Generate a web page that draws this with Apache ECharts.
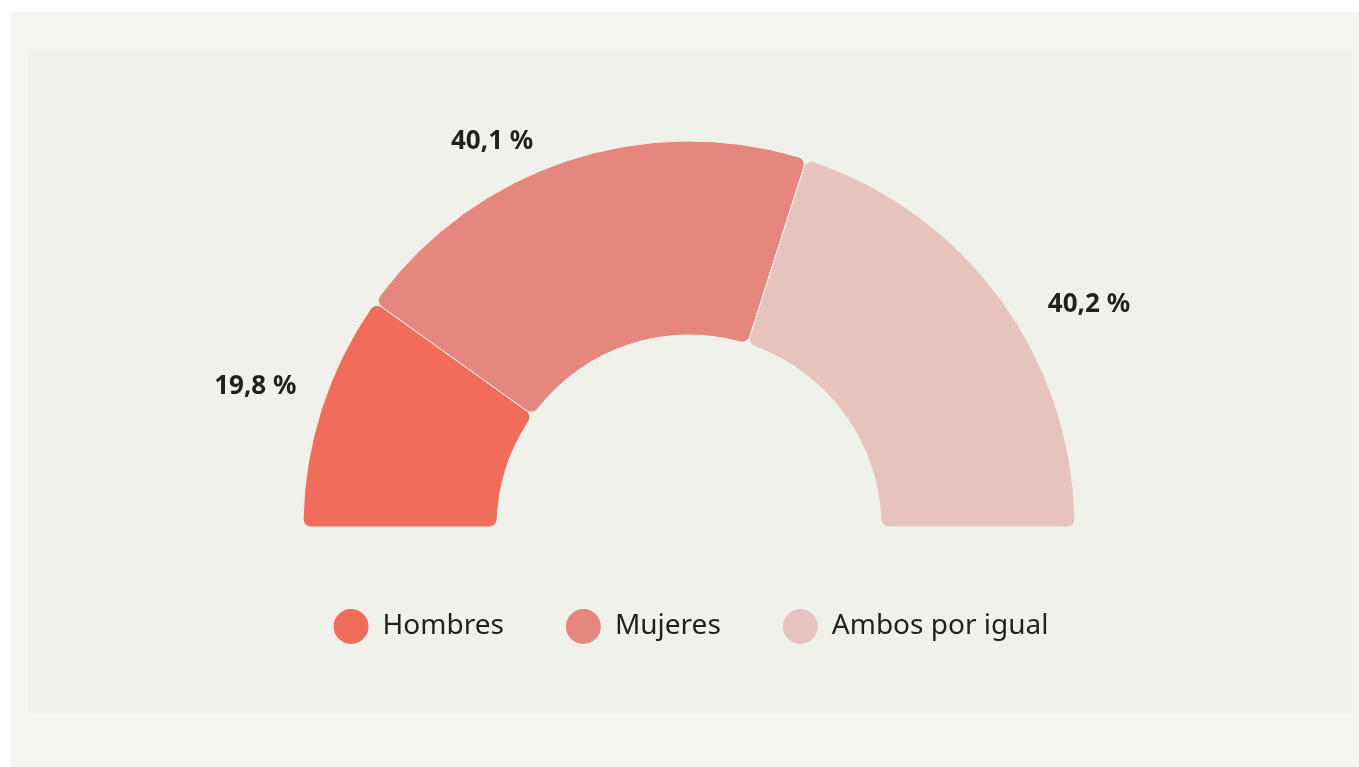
<!DOCTYPE html>
<html>
<head>
<meta charset="utf-8">
<script src="https://cdn.jsdelivr.net/npm/echarts@6/dist/echarts.min.js"></script>
<style>
  html, body {
    margin: 0;
    padding: 0;
    background: #ffffff;
  }
  .outer {
    position: absolute;
    left: 11px;
    top: 12px;
    width: 1348px;
    height: 755px;
    background: #f5f4f0;
  }
  #chart {
    position: absolute;
    left: 17px;
    top: 38px;
    width: 1324px;
    height: 663px;
    background: #f1f1ec;
  }
</style>
</head>
<body>
<div class="outer">
  <div id="chart"></div>
</div>
<script>
  const categories = ["Hombres", "Mujeres", "Ambos por igual"];
  const values = [19.8, 40.1, 40.2];
  const colors = ["#f06d59", "#e5877e", "#e6c4bd"];
  // small nudges so the labels sit where the original puts them
  const labelShift = [[-1, -16], [-23, 0], [26, 17]];

  const chart = echarts.init(document.getElementById("chart"));

  const pieData = categories.map((name, i) => {
    return {
      name: name,
      value: values[i],
      itemStyle: { color: colors[i] },
    };
  });

  const option = {
    backgroundColor: "transparent",
    animation: false,
    legend: {
      data: categories,
      left: "center",
      top: 552,
      icon: "circle",
      itemWidth: 37,
      itemHeight: 37,
      itemGap: 60,
      textStyle: {
        fontFamily: "Noto Sans",
        fontSize: 28,
        color: "#231f20",
        padding: [0, 0, 0, 8],
      },
    },
    series: [
      {
        type: "pie",
        center: [661, 477],
        radius: [192, 386],
        startAngle: 180,
        endAngle: 0,
        clockwise: true,
        avoidLabelOverlap: false,
        itemStyle: {
          borderRadius: 8,
          borderColor: "#f1f1ec",
          borderWidth: 1,
        },
        label: {
          show: true,
          position: "outside",
          formatter: (p) => p.value.toFixed(1).replace(".", ",") + " %",
          fontFamily: "Noto Sans",
          fontWeight: "bold",
          fontSize: 26,
          color: "#231f20",
          distanceToLabelLine: 5,
        },
        labelLine: {
          show: false,
          length: 20,
          length2: 0,
        },
        labelLayout: (params) => {
          const s = labelShift[params.dataIndex];
          return { dx: s[0], dy: s[1] };
        },
        emphasis: { disabled: true },
        data: pieData,
      },
    ],
  };

  chart.setOption(option);
</script>
</body>
</html>
